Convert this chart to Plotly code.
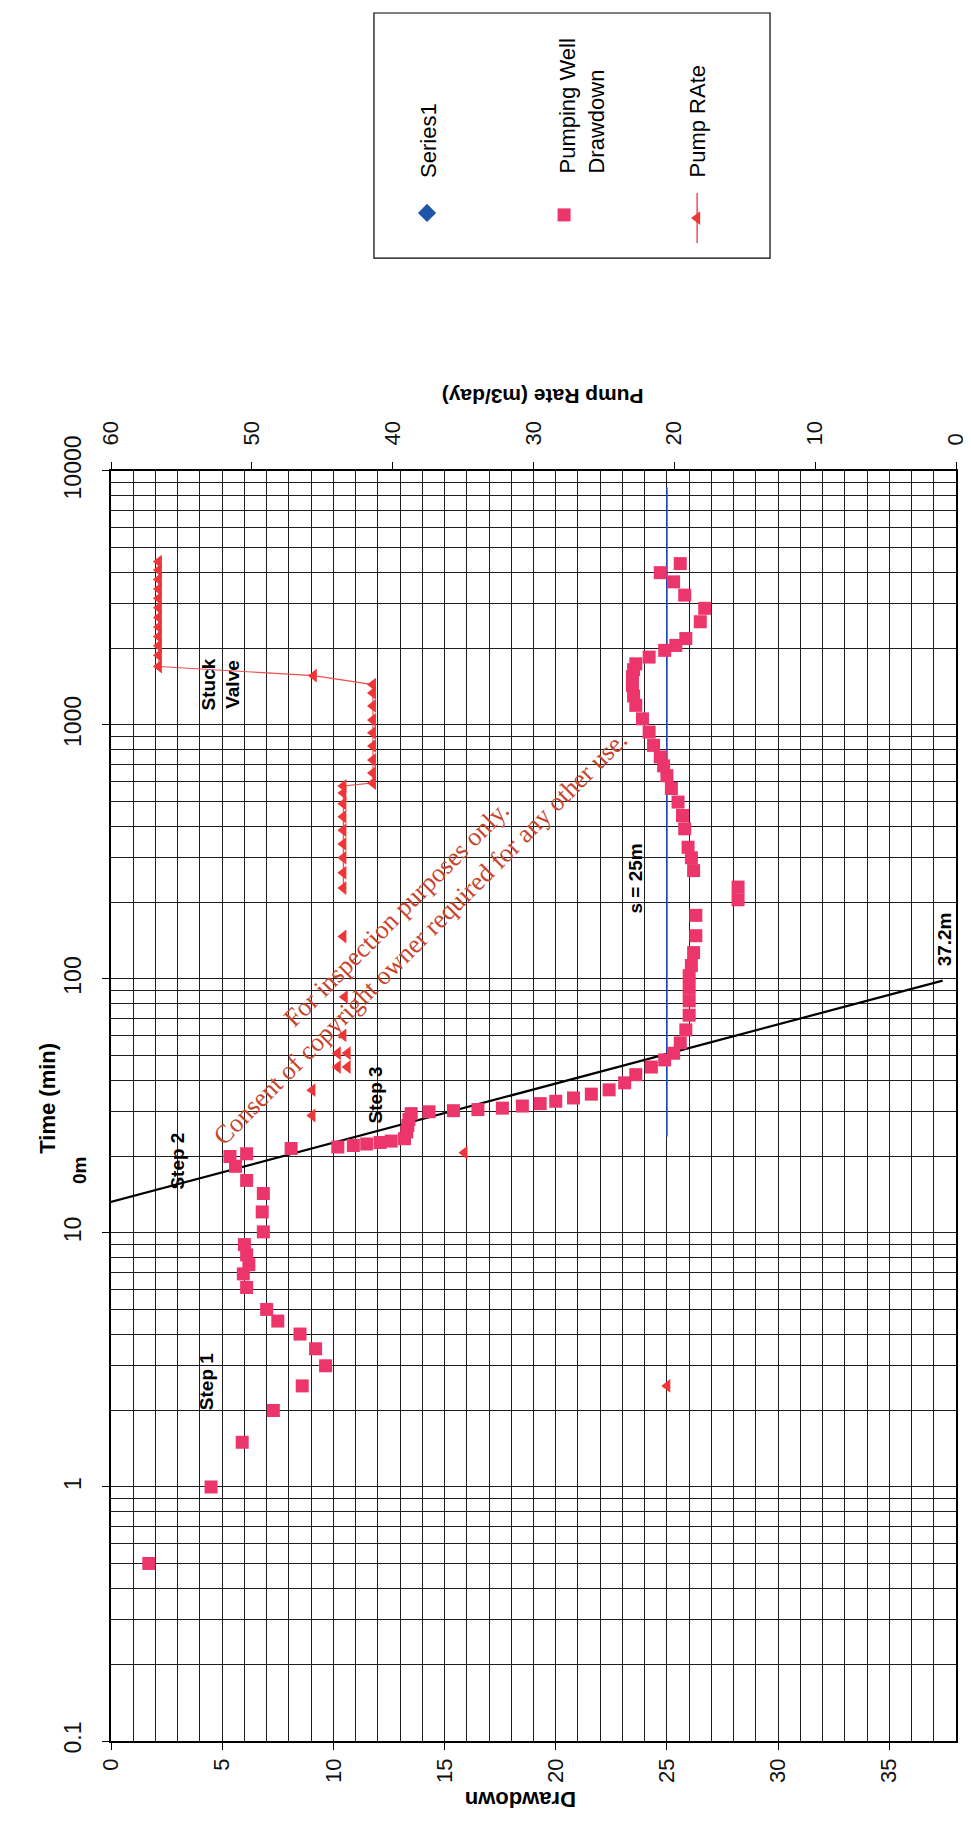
import math
import plotly.graph_objects as go

# ---------------- data ----------------
dd_time = [0.5, 1.0, 1.5, 2.0, 2.5, 3.0, 3.5, 4.0, 4.5, 5.0, 6.1, 6.9, 7.5, 8.2, 9.0,
           10.1, 12.1, 14.3, 16.1, 18.3, 20.0, 20.5, 21.5,
           21.8, 22.1, 22.4, 22.7, 23.0, 23.5, 25.0, 26.5, 28.0, 29.5,
           30.0, 30.3, 30.6, 31.0, 31.6, 32.3, 33.0, 34.0, 35.2, 36.6, 39.0,
           42, 45, 48, 51, 56, 63, 72, 82, 92, 103, 113, 127, 148, 178, 205, 230,
           267, 300, 330, 390, 440, 497, 562, 631, 690, 748, 831, 937, 1057, 1194,
           1300, 1429, 1550, 1650, 1740, 1850, 1966, 2056, 2188, 2548, 2878, 3243,
           3658, 3975, 4316]
dd_drawdown = [1.7, 4.5, 5.9, 7.3, 8.6, 9.65, 9.2, 8.5, 7.5, 7.0, 6.1, 5.95, 6.2, 6.1, 6.0,
               6.85, 6.8, 6.85, 6.1, 5.6, 5.35, 6.1, 8.1,
               10.2, 10.9, 11.5, 12.1, 12.6, 13.2, 13.3, 13.35, 13.4, 13.5,
               14.3, 15.4, 16.5, 17.6, 18.5, 19.3, 20.0, 20.8, 21.6, 22.4, 23.1,
               23.6, 24.3, 24.9, 25.3, 25.6, 25.85, 26.0, 26.0, 26.0, 26.0, 26.1, 26.2, 26.3, 26.3, 28.2, 28.2,
               26.2, 26.1, 25.95, 25.8, 25.7, 25.5, 25.2, 25.0, 24.85, 24.7, 24.4, 24.2, 23.9, 23.6,
               23.5, 23.45, 23.45, 23.5, 23.6, 24.2, 24.9, 25.4, 25.85, 26.5, 26.7, 25.8,
               25.3, 24.7, 25.6]

pump_single_time = [2.5, 20.7, 29, 36.5, 45, 45, 51, 51, 60, 85, 147]
pump_single_rate = [20.5, 34.9, 45.7, 45.7, 43.9, 43.2, 43.9, 43.2, 43.5, 43.4, 43.5]

pump_line_time = [228, 262, 300, 340, 385, 435, 490, 540, 575,
                  591, 647, 728, 827, 931, 1046, 1188, 1337, 1442,
                  1563,
                  1698, 1880, 2050, 2230, 2430, 2650, 2890, 3150, 3430, 3740, 4070, 4395]
pump_line_rate = [43.5] * 9 + [41.4] * 9 + [45.6] + [56.6] * 12

series1_time = [24, 8600]
series1_drawdown = [25, 25]

fit_time = [12.7, 98.5]
fit_drawdown = [-0.8, 37.4]

time_ticks = [0.1, 1, 10, 100, 1000, 10000]
time_labels = ["0.1", "1", "10", "100", "1000", "10000"]
drawdown_ticks = [0, 5, 10, 15, 20, 25, 30, 35]
rate_ticks = [0, 10, 20, 30, 40, 50, 60]

# chart notes: text, drawdown position, time position
note_text = ["Step 1", "Step 2", "Step 3", "Stuck<br>Valve", "s = 25m", "37.2m"]
note_drawdown = [4.3, 2.95, 11.9, 4.95, 23.6, 37.5]
note_time = [2.6, 19.2, 35, 1445, 248, 143]

PINK = "#EC356B"
RED = "#EF3535"
BLUE = "#1F4FC8"
GRID = "#1e1e1e"
FONT = "Liberation Sans, Arial, sans-serif"

fig = go.Figure()

fig.add_trace(go.Scatter(x=series1_drawdown, y=series1_time, mode="lines",
                         line=dict(color=BLUE, width=1.6), showlegend=False,
                         xaxis="x", yaxis="y"))
fig.add_trace(go.Scatter(x=fit_drawdown, y=fit_time, mode="lines",
                         line=dict(color="black", width=2.2), showlegend=False,
                         xaxis="x", yaxis="y"))
fig.add_trace(go.Scatter(x=dd_drawdown, y=dd_time, mode="markers",
                         marker=dict(symbol="square", size=13, color=PINK),
                         showlegend=False, xaxis="x", yaxis="y"))
fig.add_trace(go.Scatter(x=pump_single_rate, y=pump_single_time, mode="markers",
                         marker=dict(symbol="triangle-left", size=12, color=RED),
                         showlegend=False, xaxis="x2", yaxis="y"))
fig.add_trace(go.Scatter(x=pump_line_rate, y=pump_line_time, mode="lines+markers",
                         line=dict(color="#F05050", width=1.2),
                         marker=dict(symbol="triangle-left", size=12, color=RED),
                         showlegend=False, xaxis="x2", yaxis="y"))

# ---- hand-drawn legend (rotated like the scan) ----
fig.add_trace(go.Scatter(x=[0.134], y=[0.184], mode="markers",
                         marker=dict(symbol="diamond", size=14, color="#1F55A8"),
                         showlegend=False, xaxis="x3", yaxis="y3"))
fig.add_trace(go.Scatter(x=[0.480], y=[0.176], mode="markers",
                         marker=dict(symbol="square", size=13, color=PINK),
                         showlegend=False, xaxis="x3", yaxis="y3"))
fig.add_trace(go.Scatter(x=[0.816, 0.816], y=[0.061, 0.265], mode="lines",
                         line=dict(color="#F05050", width=1.5),
                         showlegend=False, xaxis="x3", yaxis="y3"))
fig.add_trace(go.Scatter(x=[0.816], y=[0.163], mode="markers",
                         marker=dict(symbol="triangle-left", size=12, color=RED),
                         showlegend=False, xaxis="x3", yaxis="y3"))

minor_time = [m * 10 ** k for k in range(-1, 4) for m in range(2, 10)]

fig.update_layout(
    width=971, height=1826,
    margin=dict(l=103, r=23, t=5, b=93, autoexpand=False),
    paper_bgcolor="white", plot_bgcolor="white",
    font=dict(family=FONT, size=22, color="#111"),
    xaxis=dict(domain=[0, 1], anchor="y", range=[0, 38], tickmode="array",
               tickvals=drawdown_ticks, ticks="outside", ticklen=7, tickcolor="black",
               tickangle=-90, showgrid=True, gridcolor=GRID, gridwidth=1,
               minor=dict(dtick=1, showgrid=True, gridcolor=GRID, gridwidth=1),
               showline=True, linecolor="black", linewidth=1.5, mirror=True,
               zeroline=False, automargin=False, tickfont=dict(size=22)),
    yaxis=dict(domain=[0, 0.735], anchor="x", type="log", range=[-1, 4],
               tickmode="array", tickvals=time_ticks, ticktext=time_labels,
               ticks="outside", ticklen=7, tickcolor="black", tickangle=-90,
               showgrid=True, gridcolor=GRID, gridwidth=1,
               minor=dict(tickmode="array", tickvals=minor_time, showgrid=True,
                          gridcolor=GRID, gridwidth=1),
               showline=True, linecolor="black", linewidth=1.5, mirror=True,
               zeroline=False, automargin=False, ticklabelstandoff=12,
               tickfont=dict(size=23)),
    xaxis2=dict(overlaying="x", anchor="y", side="top", range=[60, 0],
                tickmode="array", tickvals=rate_ticks, ticks="outside", ticklen=8,
                tickcolor="black", tickangle=-90, showgrid=False, zeroline=False,
                showline=False, automargin=False, ticklabelstandoff=12,
                tickfont=dict(size=22)),
    xaxis3=dict(domain=[0.3112, 0.7799], anchor="y3", range=[0, 1], visible=False,
                automargin=False),
    yaxis3=dict(domain=[0.8582, 1.0], anchor="x3", range=[0, 1], visible=False,
                automargin=False),
)

fig.add_shape(type="rect", xref="paper", yref="paper", x0=0.3112, x1=0.7799,
              y0=0.8582, y1=1.0, line=dict(color="black", width=1.2))

ann = []
def A(text, x, y, xref, yref, angle, size=22, color="black", family=FONT, align="center"):
    ann.append(dict(text=text, x=x, y=y, xref=xref, yref=yref, textangle=angle,
                    showarrow=False, align=align,
                    font=dict(size=size, color=color, family=family)))

# axis titles
A("<b>Time (min)</b>", -0.0923, 0.372, "paper", "paper", -90, size=22)
A("<b>Drawdown</b>", 0.484, -0.0422, "paper", "paper", 180, size=22)
A("<b>Pump Rate (m3/day)</b>", 0.511, 0.786, "paper", "paper", 180, size=21)

# in-plot notes (log axis: annotation y is given in log10 units)
for txt, d, t in zip(note_text, note_drawdown, note_time):
    A("<b>" + txt + "</b>", d, math.log10(t), "x", "y", -90, size=19)
A("<b>0m</b>", -0.052, 0.3212, "paper", "paper", -90, size=19)

# legend texts
A("Series1", 0.139, 0.478, "x3", "y3", -90, size=22)
A("Pumping Well<br>Drawdown", 0.525, 0.622, "x3", "y3", -90, size=22, align="left")
A("Pump RAte", 0.818, 0.561, "x3", "y3", -90, size=22)

# scan watermark
A("For inspection purposes only.<br>Consent of copyright owner required for any other use.",
  0.3515, 0.4716, "paper", "paper", -45, size=26, color="#C8452D",
  family="Liberation Serif, Times New Roman, serif")

fig.update_layout(annotations=ann)
fig.write_html("out.html")
